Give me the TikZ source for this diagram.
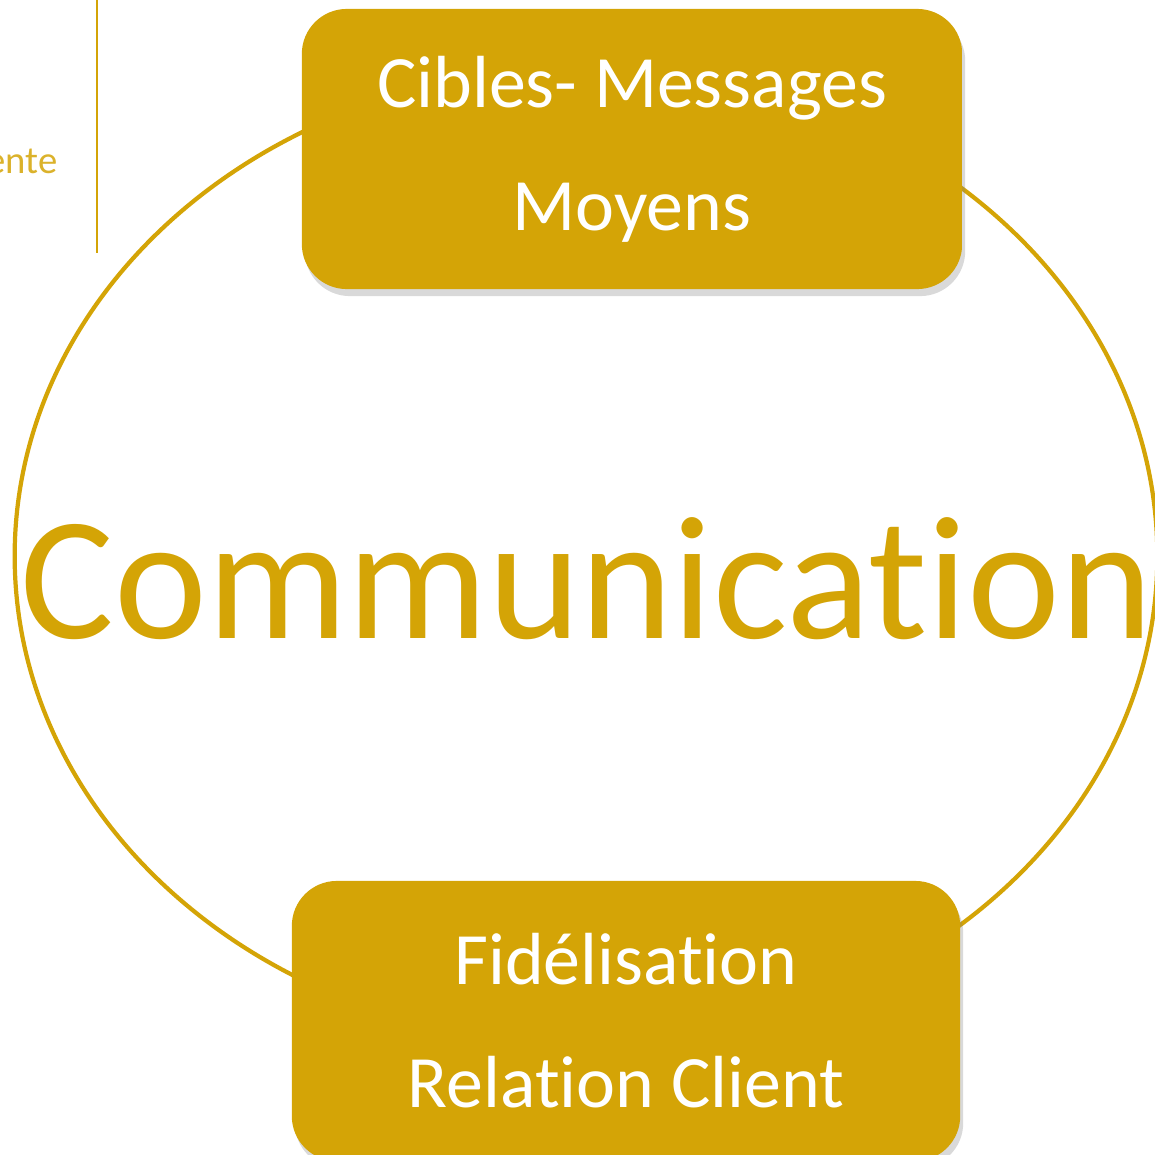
\documentclass[tikz,border=0pt]{standalone}
\usepackage{fontspec}
\setmainfont{Carlito}[Ligatures=NoCommon]
\usetikzlibrary{shapes.geometric,shadows,positioning}
\definecolor{gold}{RGB}{212,164,6}
\definecolor{goldlight}{RGB}{246,206,44}
\pgfdeclareverticalshading{goldrim}{100bp}{color(0bp)=(gold); color(86bp)=(gold); color(96bp)=(goldlight!70!gold); color(100bp)=(goldlight)}

\begin{document}
\begin{tikzpicture}[x=0.01cm,y=-0.01cm,
    goldbox/.style={rounded corners=0.45cm, minimum width=6.6cm, minimum height=2.8cm,
        shading=goldrim, text=white, align=center, font=\fontsize{21}{35}\selectfont,
        drop shadow={shadow xshift=0.03cm, shadow yshift=-0.07cm, opacity=0.3}},
    ringstyle/.style={ellipse, draw=gold, line width=1.2pt, minimum width=11.42cm, minimum height=9.76cm}]
\useasboundingbox (0,0) rectangle (1155,1154);

% Side fragment
\node[anchor=base east, inner sep=0, text=gold!85, font=\fontsize{11}{13}\selectfont] (ente) at (58,173) {ente};
\draw[gold, line width=0.6pt] (97,0) -- (97,253);

% Ring
\node[ringstyle] (ring) at (586,556) {};

% Boxes
\node[goldbox] (cibles) at (632,149) {Cibles- Messages\\Moyens};
\node[goldbox, minimum width=6.68cm] (fidel) at (626,1021) {Fidélisation\\Relation Client};

% Centre title
\node[anchor=base, inner sep=0, text=gold, font=\fontsize{50}{56}\selectfont] (comm) at (587,638) {Communication};

\end{tikzpicture}
\end{document}
